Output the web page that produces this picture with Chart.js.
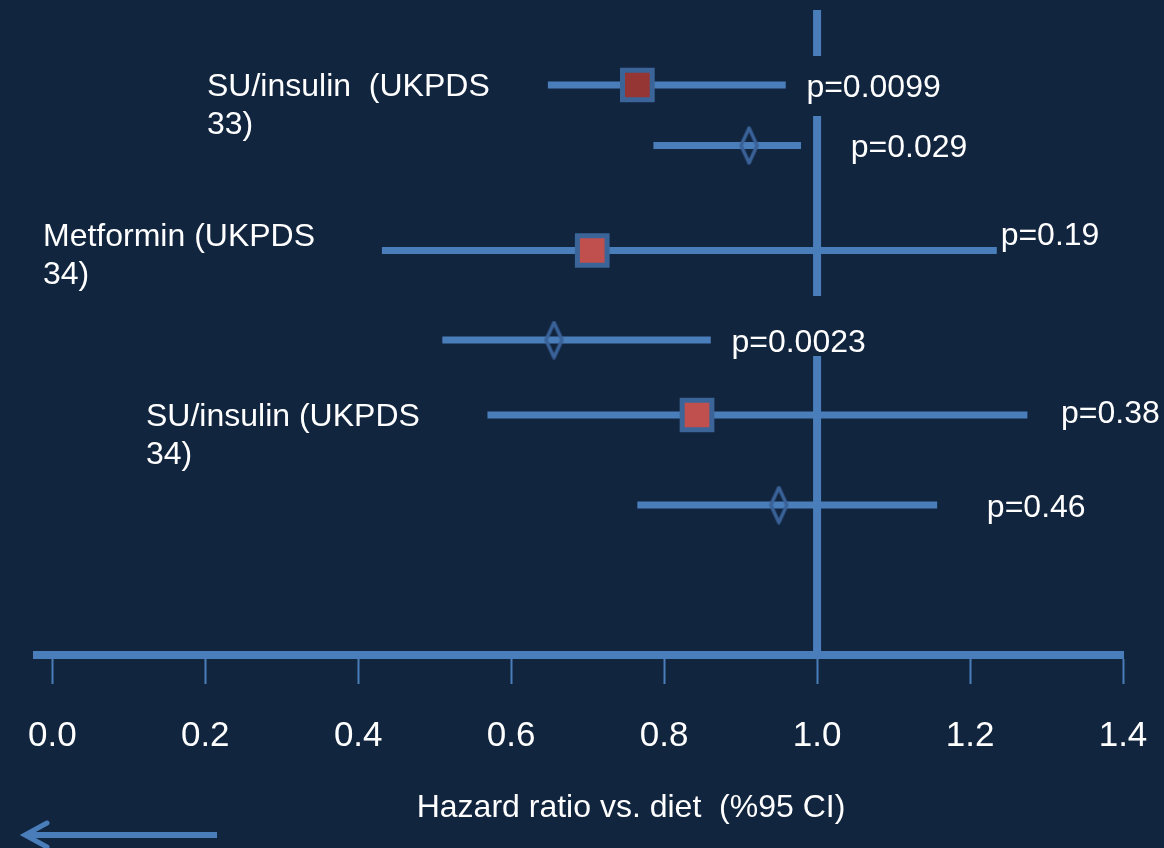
<!DOCTYPE html>
<html>
<head>
<meta charset="utf-8">
<script src="https://cdn.jsdelivr.net/npm/chart.js@4.4.0/dist/chart.umd.min.js"></script>
<style>
  html, body { margin: 0; padding: 0; background: #12253f; }
  #wrap { width: 1164px; height: 848px; }
</style>
</head>
<body>
<div id="wrap"><canvas id="forest" width="1164" height="848"></canvas></div>
<script>
// ---- data ----
var xTicks   = [0, 0.2, 0.4, 0.6, 0.8, 1.0, 1.2, 1.4];
var refValue = 1.0;
var rowY     = [0.75, 1.355, 2.405, 3.30, 4.05, 4.95];
var hr       = [0.765, 0.911, 0.706, 0.656, 0.843, 0.950];
var ciLow    = [0.648, 0.786, 0.431, 0.510, 0.569, 0.765];
var ciHigh   = [0.959, 0.979, 1.235, 0.861, 1.275, 1.157];
var markKind = ['square', 'diamond', 'square', 'diamond', 'square', 'diamond'];
var pText    = ['p=0.0099', 'p=0.029', 'p=0.19', 'p=0.0023', 'p=0.38', 'p=0.46'];
var pX       = [0.986, 1.044, 1.24, 0.888, 1.319, 1.222];
var pY       = [0.76, 1.36, 2.24, 3.31, 4.02, 4.96];
var studies  = [['SU/insulin  (UKPDS', '33)'], ['Metformin (UKPDS', '34)'], ['SU/insulin (UKPDS', '34)']];
var axisTitle = 'Hazard ratio vs. diet  (%95 CI)';

var BG = '#12253f';
var BLUE = '#4a7ebb';
var FONT = "'Liberation Sans', Arial, sans-serif";

// tall narrow diamond used as point style
function makeDiamond() {
  var c = document.createElement('canvas');
  c.width = 21; c.height = 39;
  var g = c.getContext('2d');
  g.strokeStyle = '#3a6298';
  g.lineWidth = 3.5;
  g.lineJoin = 'round';
  g.beginPath();
  g.moveTo(10.5, 2); g.lineTo(18.5, 19.5); g.lineTo(10.5, 37); g.lineTo(2.5, 19.5);
  g.closePath();
  g.stroke();
  return c;
}

var datasets = [];
datasets.push({
  data: [{x: refValue, y: 0}, {x: refValue, y: 6.45}],
  showLine: true, borderColor: BLUE, borderWidth: 8, pointRadius: 0, order: 3
});
for (var i = 0; i < rowY.length; i++) {
  datasets.push({
    data: [{x: ciLow[i], y: rowY[i]}, {x: ciHigh[i], y: rowY[i]}],
    showLine: true, borderColor: BLUE, borderWidth: 7, pointRadius: 0,
    borderCapStyle: 'butt', order: 2
  });
}
var sqData = [], sqFill = [], dmData = [];
for (var j = 0; j < rowY.length; j++) {
  if (markKind[j] == 'square') {
    sqData.push({x: hr[j], y: rowY[j]});
    sqFill.push(sqData.length == 1 ? '#963634' : '#c0504d');
  } else {
    dmData.push({x: hr[j], y: rowY[j]});
  }
}
datasets.push({
  data: sqData, pointStyle: 'rect', pointRadius: 21, pointHoverRadius: 21,
  backgroundColor: sqFill, borderColor: '#3b6499', borderWidth: 5, order: 0
});
datasets.push({
  data: dmData, pointStyle: makeDiamond(), order: 1
});

var textPlugin = {
  id: 'forestText',
  beforeDraw: function(chart) {
    var ctx = chart.ctx;
    ctx.save();
    ctx.fillStyle = BG;
    ctx.fillRect(0, 0, chart.width, chart.height);
    ctx.restore();
  },
  afterDatasetsDraw: function(chart) {
    var ctx = chart.ctx;
    var xs = chart.scales.x, ys = chart.scales.y;
    // text boxes that hide part of the 1.0 line
    var masks = {0: [30, 30], 3: [45, 15]};
    ctx.save();
    ctx.font = '32px ' + FONT;
    ctx.textBaseline = 'alphabetic';
    ctx.textAlign = 'left';
    for (var i = 0; i < pText.length; i++) {
      var px = xs.getPixelForValue(pX[i]);
      var py = ys.getPixelForValue(pY[i]);
      var w = ctx.measureText(pText[i]).width;
      if (masks[i]) {
        ctx.fillStyle = BG;
        ctx.fillRect(px - 10, py - masks[i][0], w + 20, masks[i][0] + masks[i][1]);
      }
      ctx.fillStyle = '#ffffff';
      ctx.fillText(pText[i], px, py + 11);
    }
    // study names (left)
    var spots = [[207, 96], [43, 246], [146, 426]];
    for (var k = 0; k < studies.length; k++) {
      for (var l = 0; l < studies[k].length; l++) {
        ctx.fillText(studies[k][l], spots[k][0], spots[k][1] + l * 38);
      }
    }
    ctx.restore();
  },
  afterDraw: function(chart) {
    var ctx = chart.ctx;
    ctx.save();
    ctx.font = '32px ' + FONT;
    ctx.fillStyle = '#ffffff';
    ctx.textAlign = 'center';
    ctx.textBaseline = 'alphabetic';
    ctx.fillText(axisTitle, 631, 817);
    // arrow at bottom left
    ctx.strokeStyle = BLUE;
    ctx.lineWidth = 6;
    ctx.beginPath();
    ctx.moveTo(217, 835); ctx.lineTo(27, 835);
    ctx.stroke();
    ctx.lineWidth = 5;
    ctx.lineCap = 'round';
    ctx.beginPath();
    ctx.moveTo(47, 823); ctx.lineTo(25, 835); ctx.lineTo(47, 847);
    ctx.stroke();
    ctx.restore();
  }
};

var ctx = document.getElementById('forest');
var myChart = new Chart(ctx, {
  type: 'scatter',
  data: { datasets: datasets },
  options: {
    responsive: false,
    animation: false,
    devicePixelRatio: 1,
    layout: { autoPadding: false, padding: { left: 37, right: 41, top: 10, bottom: 0 } },
    plugins: { legend: { display: false }, tooltip: { enabled: false } },
    scales: {
      x: {
        type: 'linear', min: -0.02, max: 1.4,
        afterBuildTicks: function(scale) {
          scale.ticks = xTicks.map(function(v) { return {value: v}; });
        },
        afterFit: function(scale) {
          scale.paddingLeft = 0;
          scale.paddingRight = 0;
          scale.height = 193;
        },
        ticks: {
          autoSkip: false, maxRotation: 0, padding: 31,
          color: '#ffffff', font: { family: FONT, size: 35 },
          callback: function(v) { return Number(v).toFixed(1); }
        },
        grid: { drawOnChartArea: false, drawTicks: true, tickLength: 29, tickWidth: 2, tickColor: BLUE },
        border: { color: BLUE, width: 8 }
      },
      y: { type: 'linear', display: false, reverse: true, min: 0, max: 6.45 }
    }
  },
  plugins: [textPlugin]
});
</script>
</body>
</html>
